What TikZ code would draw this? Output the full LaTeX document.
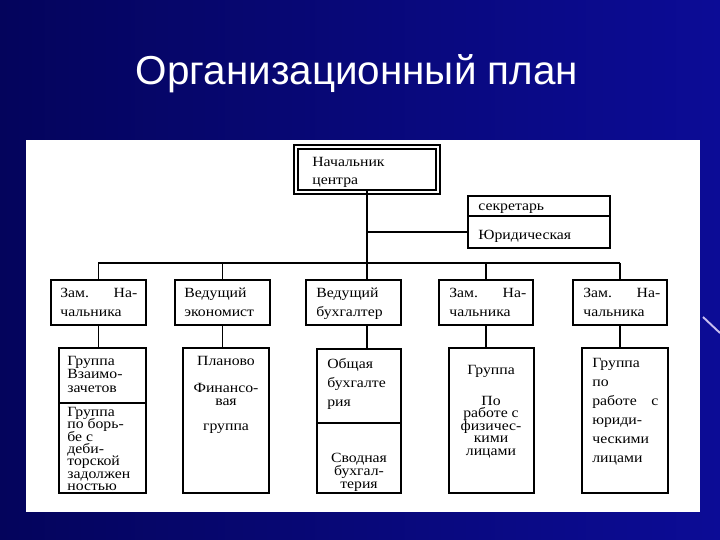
\documentclass[tikz,border=0pt]{standalone}
\usepackage{fontspec}
\setmainfont{Liberation Serif}
\newfontfamily\boxfont{Liberation Serif}[FakeStretch=1.12]
\newfontfamily\titlefont{Liberation Sans}
\lineskiplimit=-20pt
\definecolor{bgleft}{RGB}{4,4,92}
\definecolor{bgright}{RGB}{12,12,150}
\definecolor{streak}{RGB}{200,190,240}

\begin{document}
\begin{tikzpicture}[x=0.02cm,y=0.02cm,
  box/.style={draw=black,line width=0.7pt,inner sep=0pt,outer sep=0pt,anchor=north west},
  txt/.style={inner sep=0pt,anchor=north west,align=left,text=black,font=\boxfont\fontsize{8}{10.8}\selectfont},
  link/.style={black,line width=0.9pt}]
\useasboundingbox (0,0) rectangle (720,-540);
\shade[left color=bgleft,right color=bgright] (0,0) rectangle (720,-540);
\draw[streak,line width=1.1pt] (703,-317) -- (720,-333);
\fill[white] (26,-140) rectangle (700,-512);
\node[text=white,font=\titlefont\fontsize{23}{28}\selectfont] (title) at (357,-74) {Организационный план};

\node[box,minimum width=2.76cm,minimum height=0.82cm] (nach) at (298,-149) {};
\draw[line width=1.6pt] ([shift={(-4,4)}]nach.north west) rectangle ([shift={(4,-4)}]nach.south east);
\node[box,minimum width=2.84cm,minimum height=0.4cm] (sekr) at (468,-196) {};
\node[box,minimum width=2.84cm,minimum height=0.64cm] (jur) at (468,-216) {};

\node[box,minimum width=1.9cm,minimum height=0.9cm] (zam1) at (51,-280) {};
\node[box,minimum width=1.9cm,minimum height=0.9cm] (ekon) at (175,-280) {};
\node[box,minimum width=1.9cm,minimum height=0.9cm] (buh) at (306,-280) {};
\node[box,minimum width=1.88cm,minimum height=0.9cm] (zam2) at (439,-280) {};
\node[box,minimum width=1.88cm,minimum height=0.9cm] (zam3) at (573,-280) {};

\node[box,minimum width=1.74cm,minimum height=1.1cm] (vzaim) at (59,-348) {};
\node[box,minimum width=1.74cm,minimum height=1.8cm] (dolg) at (59,-403) {};
\node[box,minimum width=1.72cm,minimum height=2.9cm] (plan) at (183,-348) {};
\node[box,minimum width=1.68cm,minimum height=1.48cm] (obsh) at (317,-349) {};
\node[box,minimum width=1.68cm,minimum height=1.4cm] (svod) at (317,-423) {};
\node[box,minimum width=1.7cm,minimum height=2.9cm] (fiz) at (449,-348) {};
\node[box,minimum width=1.72cm,minimum height=2.9cm] (jurl) at (582,-348) {};

\node[txt,font=\boxfont\fontsize{8}{10.2}\selectfont] (nacht) at (312,-157) {Начальник\\центра};
\node[txt] (sekrt) at (478,-204) {секретарь};
\node[txt] (jurt) at (478,-230) {Юридическая};
\node[txt,text width=1.54cm] (zam1t) at (60,-288) {Зам.\hfill На-\\чальника};
\node[txt] (ekont) at (184,-288) {Ведущий\\экономист};
\node[txt] (buht) at (316,-288) {Ведущий\\бухгалтер};
\node[txt,text width=1.54cm] (zam2t) at (449,-288) {Зам.\hfill На-\\чальника};
\node[txt,text width=1.54cm] (zam3t) at (583,-288) {Зам.\hfill На-\\чальника};

\node[txt,font=\boxfont\fontsize{8}{7.6}\selectfont] (vzaimt) at (67,-356) {Группа\\Взаимо-\\зачетов};
\node[txt,font=\boxfont\fontsize{8}{7}\selectfont] (dolgt) at (67,-407) {Группа\\по борь-\\бе с\\деби-\\торской\\задолжен\\ностью};
\node[txt,anchor=north,align=center,font=\boxfont\fontsize{8}{7.4}\selectfont] (plant) at (226,-356) {Планово\\[7.9pt]Финансо-\\вая\\[6.8pt]группа};
\node[txt] (obsht) at (327,-358) {Общая\\бухгалте\\рия};
\node[txt,anchor=north,align=center,font=\boxfont\fontsize{8}{7.4}\selectfont] (svodt) at (359,-453) {Сводная\\бухгал-\\терия};
\node[txt,anchor=north,align=center,font=\boxfont\fontsize{8}{7.1}\selectfont] (fizt) at (491,-365) {Группа\\[10.4pt]По\\работе с\\физичес-\\кими\\лицами};
\node[txt,text width=1.32cm] (jurlt) at (592,-358) {Группа\\по\\работе\hfill с\\юриди-\\ческими\\лицами};

\coordinate (bus) at (0,-263);
\draw[link] (nach.south) -- (nach.south |- buh.north);
\draw[link] (nach.south |- jur.west) -- (jur.west);
\draw[link] (zam1.north |- bus) -- (zam3.north |- bus);
\foreach \n in {zam1,ekon,zam2,zam3}
  \draw[link] (\n.north |- bus) -- (\n.north);
\draw[link] (zam1.south) -- (zam1.south |- vzaim.north);
\draw[link] (ekon.south) -- (ekon.south |- plan.north);
\draw[link] (buh.south -| nach.south) -- (nach.south |- obsh.north);
\draw[link] (zam2.south) -- (zam2.south |- fiz.north);
\draw[link] (zam3.south) -- (zam3.south |- jurl.north);
\end{tikzpicture}
\end{document}
